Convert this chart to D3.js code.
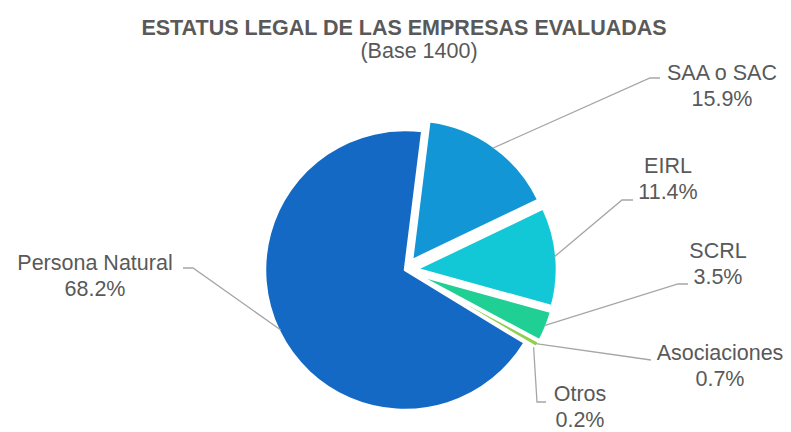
<!DOCTYPE html>
<html>
<head>
<meta charset="utf-8">
<script src="https://cdn.jsdelivr.net/npm/d3@7"></script>
<style>
  body { margin: 0; background: #fff; }
  text { font-family: "Liberation Sans", Arial, sans-serif; fill: #595959; }
</style>
</head>
<body>
<svg id="pie"></svg>
<script>
// datos
var categories = ["SAA o SAC", "EIRL", "SCRL", "Asociaciones", "Otros", "Persona Natural"]
var values = [15.9, 11.4, 3.5, 0.7, 0.2, 68.2]
var colors = ["#1396d5", "#13c8d6", "#1fcf94", "#8fd14f", "#c8e88a", "#1469c4"]

// posiciones de las etiquetas (texto centrado) y codo de la linea guia
var labelLayout = [
    {x: 722, y: 80, elbow: [650, 78], end: [660, 78]},
    {x: 668, y: 173, elbow: [622, 200], end: [633, 200]},
    {x: 718, y: 258, elbow: [678, 284], end: [688, 284]},
    {x: 720, y: 360, elbow: [651, 360], end: [651, 360]},
    {x: 580, y: 401, elbow: [537, 402], end: [546, 402]},
    {x: 95, y: 270, elbow: [193, 268], end: [183, 268]}
]

var dimensions = {
    width: 791,
    height: 432,
    cx: 405,
    cy: 270,
    radius: 140,
    explode: 12
}

var svg = d3.select("#pie")
            .attr("width", dimensions.width)
            .attr("height", dimensions.height)

svg.append("text")
   .attr("x", 404)
   .attr("y", 35)
   .attr("text-anchor", "middle")
   .style("font-size", "21.5px")
   .style("font-weight", "bold")
   .text("ESTATUS LEGAL DE LAS EMPRESAS EVALUADAS")

svg.append("text")
   .attr("x", 419)
   .attr("y", 58)
   .attr("text-anchor", "middle")
   .style("font-size", "21.5px")
   .text("(Base 1400)")

var startAngle = 7.1 * Math.PI / 180
var pie = d3.pie()
            .sort(null)
            .value(d => d)
            .startAngle(startAngle)
            .endAngle(startAngle + 2 * Math.PI)

var arcs = pie(values)

var arcGen = d3.arc().innerRadius(0).outerRadius(dimensions.radius)

function offset(d, i) {
    if (i === categories.length - 1) return [0, 0]
    var a = (d.startAngle + d.endAngle) / 2
    return [Math.sin(a) * dimensions.explode, -Math.cos(a) * dimensions.explode]
}

var g = svg.append("g")
           .attr("transform", `translate(${dimensions.cx},${dimensions.cy})`)

g.selectAll("path")
 .data(arcs)
 .enter()
 .append("path")
 .attr("d", arcGen)
 .attr("transform", (d, i) => `translate(${offset(d, i)})`)
 .attr("fill", (d, i) => colors[i])
 .attr("stroke", "#fff")
 .attr("stroke-width", 2.5)
 .attr("stroke-linejoin", "round")

// lineas guia
svg.append("g")
   .selectAll("polyline")
   .data(arcs)
   .enter()
   .append("polyline")
   .attr("points", (d, i) => {
       var a = (d.startAngle + d.endAngle) / 2
       var o = offset(d, i)
       var r = dimensions.radius - 2
       var p0 = [dimensions.cx + o[0] + Math.sin(a) * r, dimensions.cy + o[1] - Math.cos(a) * r]
       var L = labelLayout[i]
       return [p0, L.elbow, L.end].map(p => p.join(",")).join(" ")
   })
   .attr("fill", "none")
   .attr("stroke", "#a6a6a6")
   .attr("stroke-width", 1.3)

// etiquetas
var labels = svg.append("g")
                .selectAll("text")
                .data(arcs)
                .enter()
                .append("text")
                .attr("text-anchor", "middle")
                .style("font-size", "21.5px")

labels.append("tspan")
      .attr("x", (d, i) => labelLayout[i].x)
      .attr("y", (d, i) => labelLayout[i].y)
      .text((d, i) => categories[i])

labels.append("tspan")
      .attr("x", (d, i) => labelLayout[i].x)
      .attr("y", (d, i) => labelLayout[i].y + 25.5)
      .text(d => d3.format(".1f")(d.data) + "%")
</script>
</body>
</html>
